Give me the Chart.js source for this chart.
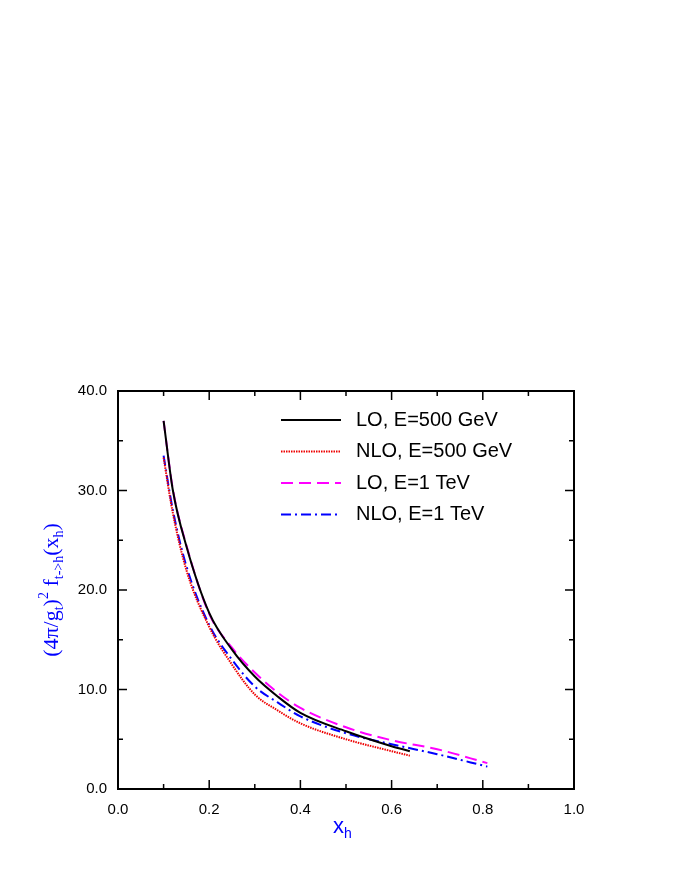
<!DOCTYPE html><html><head><meta charset="utf-8">
<script src="https://cdn.jsdelivr.net/npm/chart.js@4"></script>
<style>body{margin:0;background:#fff}</style></head><body><canvas id="c" width="692" height="896" style="width:692px;height:896px"></canvas>
<script>
const xLO500=[0.1,0.12,0.15,0.2,0.25,0.3,0.35,0.4,0.5,0.6,0.64];
const yLO500=[37.0,30.1,24.4,17.7,14.0,11.3,9.3,7.65,5.8,4.3,3.8];
const xNLO500=[0.1,0.12,0.15,0.2,0.25,0.3,0.35,0.4,0.5,0.6,0.64];
const yNLO500=[33.3,27.8,22.0,16.3,12.5,9.5,7.9,6.6,5.0,3.8,3.35];
const xLO1=[0.1,0.12,0.15,0.2,0.25,0.3,0.35,0.4,0.5,0.6,0.7,0.81];
const yLO1=[37.0,30.2,24.5,17.6,14.2,11.7,9.7,8.15,6.2,4.9,4.0,2.6];
const xNLO1=[0.1,0.12,0.15,0.2,0.25,0.3,0.35,0.4,0.5,0.6,0.7,0.81];
const yNLO1=[33.5,28.1,22.4,16.5,13.0,10.3,8.7,7.3,5.6,4.5,3.5,2.25];
const labels=["LO, E=500 GeV","NLO, E=500 GeV","LO, E=1 TeV","NLO, E=1 TeV"];
const pts=(xs,ys)=>xs.map((x,i)=>({x,y:ys[i]}));
const styles=[{c:'#000',d:[]},{c:'#e00',d:[1.5,1]},{c:'#f0f',d:[12,6]},{c:'#00f',d:[10,4,2,4]}];
const series=[pts(xLO500,yLO500),pts(xNLO500,yNLO500),pts(xLO1,yLO1),pts(xNLO1,yNLO1)];
const deco={id:'deco',afterDraw(ch){const g=ch.ctx,a=ch.chartArea,xs=ch.scales.x,ys=ch.scales.y;g.save();g.strokeStyle='#000';g.lineWidth=2;g.strokeRect(a.left,a.top,a.right-a.left,a.bottom-a.top);g.lineWidth=1.5;
for(let k=0;k<=10;k++){const p=xs.getPixelForValue(k/10),L=(k%2==0)?9:5;g.beginPath();g.moveTo(p,a.bottom);g.lineTo(p,a.bottom-L);g.moveTo(p,a.top);g.lineTo(p,a.top+L);g.stroke();}
for(let v=0;v<=40;v+=5){const p=ys.getPixelForValue(v),L=(v%10==0)?9:5;g.beginPath();g.moveTo(a.left,p);g.lineTo(a.left+L,p);g.moveTo(a.right,p);g.lineTo(a.right-L,p);g.stroke();}
g.font='20px "Liberation Sans", Arial';g.textBaseline='middle';
labels.forEach((t,i)=>{const y=420+i*31.5;g.strokeStyle=styles[i].c;g.lineWidth=2;g.setLineDash(styles[i].d);g.beginPath();g.moveTo(281,y);g.lineTo(341,y);g.stroke();g.setLineDash([]);g.fillStyle='#000';g.fillText(t,356,y);});
g.fillStyle='#00f';g.translate(58,590);g.rotate(-Math.PI/2);g.textBaseline='alphabetic';
const parts=[['(4π/g',22,0],['t',14,5],[')',22,0],['2',14,-10],[' f',22,0],['t->h',14,5],['(x',22,0],['h',14,5],[')',22,0]];
let w=0;parts.forEach(p=>{g.font=p[1]+'px "Liberation Serif"';w+=g.measureText(p[0]).width;});let x0=-w/2;g.textAlign='left';
parts.forEach(p=>{g.font=p[1]+'px "Liberation Serif"';g.fillText(p[0],x0,p[2]);x0+=g.measureText(p[0]).width;});
g.restore();g.save();g.fillStyle='#00f';g.textBaseline='alphabetic';g.font='22px "Liberation Sans"';g.fillText('x',333,833);g.font='14px "Liberation Sans"';g.fillText('h',344,838);g.restore();}};
new Chart(document.getElementById('c'),{type:'scatter',data:{datasets:series.map((d,i)=>({label:labels[i],data:d,showLine:true,pointRadius:0,borderColor:styles[i].c,borderDash:styles[i].d,borderWidth:2,cubicInterpolationMode:'monotone',fill:false}))},
options:{responsive:false,animation:false,layout:{padding:{left:0,right:118,top:391,bottom:0}},plugins:{legend:{display:false},tooltip:{enabled:false}},
scales:{x:{type:'linear',min:0,max:1,grid:{display:false},border:{display:false},ticks:{stepSize:0.2,callback:v=>v.toFixed(1),color:'#000',font:{size:15,family:'Liberation Sans'},padding:4},afterFit(s){s.height=107}},
y:{min:0,max:40,grid:{display:false},border:{display:false},ticks:{stepSize:10,callback:v=>v.toFixed(1),color:'#000',font:{size:15,family:'Liberation Sans'}},afterFit(s){s.width=118}}}},plugins:[deco]});
</script></body></html>
